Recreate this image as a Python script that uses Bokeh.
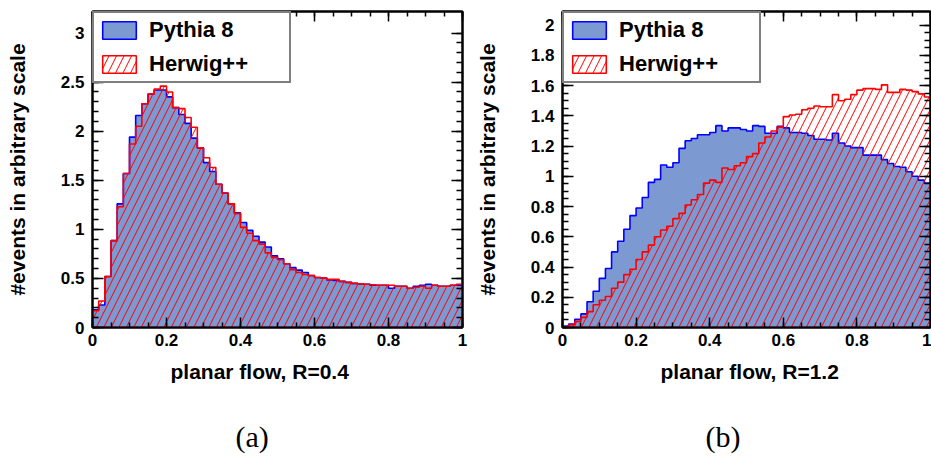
import numpy as np
from bokeh.plotting import figure
from bokeh.models import (FixedTicker, LinearAxis, Legend, LegendItem, Title, Range1d)
from bokeh.layouts import row
from bokeh.embed import file_html
from bokeh.resources import INLINE

# ---------------- data (60 bins on [0,1]) ----------------
bin_lo, bin_hi, n_bins = 0.0, 1.0, 60

pythia_r04 = [0.18, 0.23, 0.52, 0.885, 1.26, 1.57, 1.94, 2.16, 2.28, 2.38,
              2.42, 2.42, 2.35, 2.24, 2.17, 2.08, 1.93, 1.83, 1.68, 1.59,
              1.46, 1.37, 1.26, 1.17, 1.07, 0.99, 0.93, 0.87, 0.82, 0.73,
              0.70, 0.65, 0.61, 0.585, 0.56, 0.53, 0.51, 0.505, 0.485, 0.48,
              0.47, 0.46, 0.45, 0.445, 0.44, 0.43, 0.43, 0.43, 0.40, 0.42,
              0.42, 0.40, 0.42, 0.43, 0.44, 0.43, 0.42, 0.42, 0.43, 0.43]
herwig_r04 = [0.17, 0.27, 0.52, 0.885, 1.23, 1.57, 1.87, 2.05, 2.28, 2.38,
              2.43, 2.46, 2.40, 2.24, 2.23, 2.14, 2.04, 1.83, 1.73, 1.63,
              1.46, 1.37, 1.26, 1.16, 1.02, 0.96, 0.885, 0.85, 0.76, 0.715,
              0.69, 0.65, 0.59, 0.56, 0.54, 0.53, 0.51, 0.505, 0.49, 0.49,
              0.47, 0.46, 0.45, 0.445, 0.44, 0.435, 0.43, 0.43, 0.43, 0.42,
              0.42, 0.40, 0.41, 0.42, 0.40, 0.43, 0.42, 0.42, 0.43, 0.44]

pythia_r12 = [0.01, 0.023, 0.054, 0.09, 0.17, 0.24, 0.325, 0.39, 0.50, 0.57,
              0.65, 0.74, 0.79, 0.86, 0.96, 0.98, 1.075, 1.06, 1.09, 1.185,
              1.235, 1.25, 1.275, 1.275, 1.29, 1.335, 1.30, 1.32, 1.32, 1.31,
              1.30, 1.335, 1.33, 1.285, 1.285, 1.33, 1.32, 1.29, 1.29, 1.285,
              1.27, 1.245, 1.245, 1.24, 1.285, 1.22, 1.20, 1.19, 1.19, 1.14,
              1.14, 1.14, 1.11, 1.085, 1.065, 1.06, 1.03, 1.00, 0.975, 0.955]
herwig_r12 = [0.005, 0.017, 0.04, 0.067, 0.105, 0.15, 0.18, 0.205, 0.26, 0.30,
              0.35, 0.385, 0.45, 0.50, 0.545, 0.60, 0.645, 0.67, 0.72, 0.755,
              0.81, 0.845, 0.88, 0.955, 0.975, 0.96, 1.055, 1.045, 1.07, 1.09,
              1.13, 1.15, 1.22, 1.26, 1.30, 1.325, 1.395, 1.405, 1.41, 1.44,
              1.45, 1.465, 1.46, 1.46, 1.54, 1.50, 1.51, 1.54, 1.57, 1.58,
              1.58, 1.575, 1.605, 1.555, 1.555, 1.575, 1.57, 1.56, 1.545, 1.525]

series_names = ["Pythia 8", "Herwig++"]
x_titles = ["planar flow, R=0.4", "planar flow, R=1.2"]
y_title = "#events in arbitrary scale"
captions = ["(a)", "(b)"]

x_ticks = [0, 0.2, 0.4, 0.6, 0.8, 1]
x_tick_labels = ["0", "0.2", "0.4", "0.6", "0.8", "1"]
ya_ticks = [0, 0.5, 1, 1.5, 2, 2.5, 3]
ya_tick_labels = ["0", "0.5", "1", "1.5", "2", "2.5", "3"]
yb_ticks = [0, 0.2, 0.4, 0.6, 0.8, 1, 1.2, 1.4, 1.6, 1.8, 2]
yb_tick_labels = ["0", "0.2", "0.4", "0.6", "0.8", "1", "1.2", "1.4", "1.6", "1.8", "2"]

ya_max = 3.22
yb_max = 2.09

# ---------------- styling ----------------
BLUE_FILL = "#7d99d1"
BLUE_LINE = "#0000ff"
RED = "#ff0000"
SANS = "Liberation Sans"
SERIF = "Liberation Serif"


def outline(vals):
    edges = np.linspace(bin_lo, bin_hi, len(vals) + 1)
    xs = np.repeat(edges, 2)
    ys = np.concatenate([[0.0], np.repeat(np.asarray(vals, float), 2), [0.0]])
    return xs, ys


def minor_list(major, nsub):
    out = []
    for a, b in zip(major[:-1], major[1:]):
        step = (b - a) / nsub
        out += [round(a + k * step, 4) for k in range(nsub)]
    out.append(major[-1])
    return out


def make_panel(blue, red, ymax, yt, ytl, xtitle, caption, width, frame_w, border_r,
               xt_off, cap_off):
    p = figure(width=width, height=460, frame_width=frame_w, frame_height=316,
               x_range=Range1d(bin_lo, bin_hi), y_range=Range1d(0, ymax),
               output_backend="svg", toolbar_location=None,
               min_border_left=92, min_border_right=border_r,
               min_border_top=11, min_border_bottom=133)
    p.background_fill_color = "white"
    p.border_fill_color = "white"
    p.outline_line_color = "black"
    p.outline_line_width = 2
    p.grid.visible = False

    xtick = FixedTicker(ticks=x_ticks, minor_ticks=minor_list(x_ticks, 4))
    ytick = FixedTicker(ticks=yt, minor_ticks=minor_list(yt, 5 if yt[1] == 0.5 else 4))

    xa = p.xaxis[0]
    xa.ticker = xtick
    xa.major_label_overrides = {t: s for t, s in zip(x_ticks, x_tick_labels)}
    ya = p.yaxis[0]
    ya.ticker = ytick
    ya.major_label_overrides = {t: s for t, s in zip(yt, ytl)}
    ya.axis_label = y_title
    ya.axis_label_standoff = 29
    ya.axis_label_text_font = SANS
    ya.axis_label_text_font_style = "bold"
    ya.axis_label_text_font_size = "21px"
    ya.axis_label_text_color = "black"

    for ax, (tin, mtin) in ((xa, (10, 5)), (ya, (11, 6))):
        ax.major_tick_in = tin
        ax.major_tick_out = 0
        ax.minor_tick_in = mtin
        ax.minor_tick_out = 0
        ax.axis_line_width = 2
        ax.major_tick_line_width = 1.5
        ax.minor_tick_line_width = 1.5
        ax.major_label_text_font = SANS
        ax.major_label_text_font_style = "bold"
        ax.major_label_text_font_size = "17px"
        ax.major_label_text_color = "black"
    xa.major_label_standoff = 6
    ya.major_label_standoff = 8

    # ticks-only axes on top and right (ROOT style)
    for loc, tk, ticks, (tin, mtin) in (("above", xtick, x_ticks, (10, 5)),
                                         ("right", ytick, yt, (11, 6))):
        ax = LinearAxis(ticker=tk)
        ax.major_label_overrides = {t: "" for t in ticks}
        ax.major_label_standoff = 0
        ax.major_label_text_font_size = "1px"
        ax.major_tick_in = tin
        ax.major_tick_out = 0
        ax.minor_tick_in = mtin
        ax.minor_tick_out = 0
        ax.axis_line_width = 2
        ax.major_tick_line_width = 1.5
        ax.minor_tick_line_width = 1.5
        p.add_layout(ax, loc)

    bx, by = outline(blue)
    rb = p.patch(bx, by, fill_color=BLUE_FILL, line_color=BLUE_LINE, line_width=1.6)
    rx, ry = outline(red)
    rr = p.patch(rx, ry, fill_color=None, hatch_pattern="/", hatch_color=RED,
                 hatch_scale=15, hatch_weight=1, line_color=RED, line_width=1.6)

    legend = Legend(items=[LegendItem(label=series_names[0], renderers=[rb]),
                           LegendItem(label=series_names[1], renderers=[rr])],
                    location="top_left", margin=0, padding=4, spacing=8,
                    glyph_width=42, glyph_height=22, label_height=22,
                    label_width=136, label_standoff=9,
                    border_line_color="black", border_line_width=2,
                    background_fill_color="white", background_fill_alpha=1,
                    label_text_font=SANS, label_text_font_style="bold",
                    label_text_font_size="22px", label_text_color="black")
    p.add_layout(legend)

    p.add_layout(Title(text=xtitle, align="left", offset=xt_off, standoff=18,
                       text_font=SANS, text_font_style="bold",
                       text_font_size="21px", text_color="black"), "below")
    p.add_layout(Title(text=caption, align="left", offset=cap_off, standoff=52,
                       text_font=SERIF, text_font_style="normal",
                       text_font_size="30px", text_color="black"), "below")
    return p


pa = make_panel(pythia_r04, herwig_r04, ya_max, ya_ticks, ya_tick_labels,
                x_titles[0], captions[0], 470, 370, 8, 78, 143)
pb = make_panel(pythia_r12, herwig_r12, yb_max, yb_ticks, yb_tick_labels,
                x_titles[1], captions[1], 461, 368, 1, 98, 143)

layout = row(pa, pb)
open("out.html", "w").write(file_html(layout, INLINE))
